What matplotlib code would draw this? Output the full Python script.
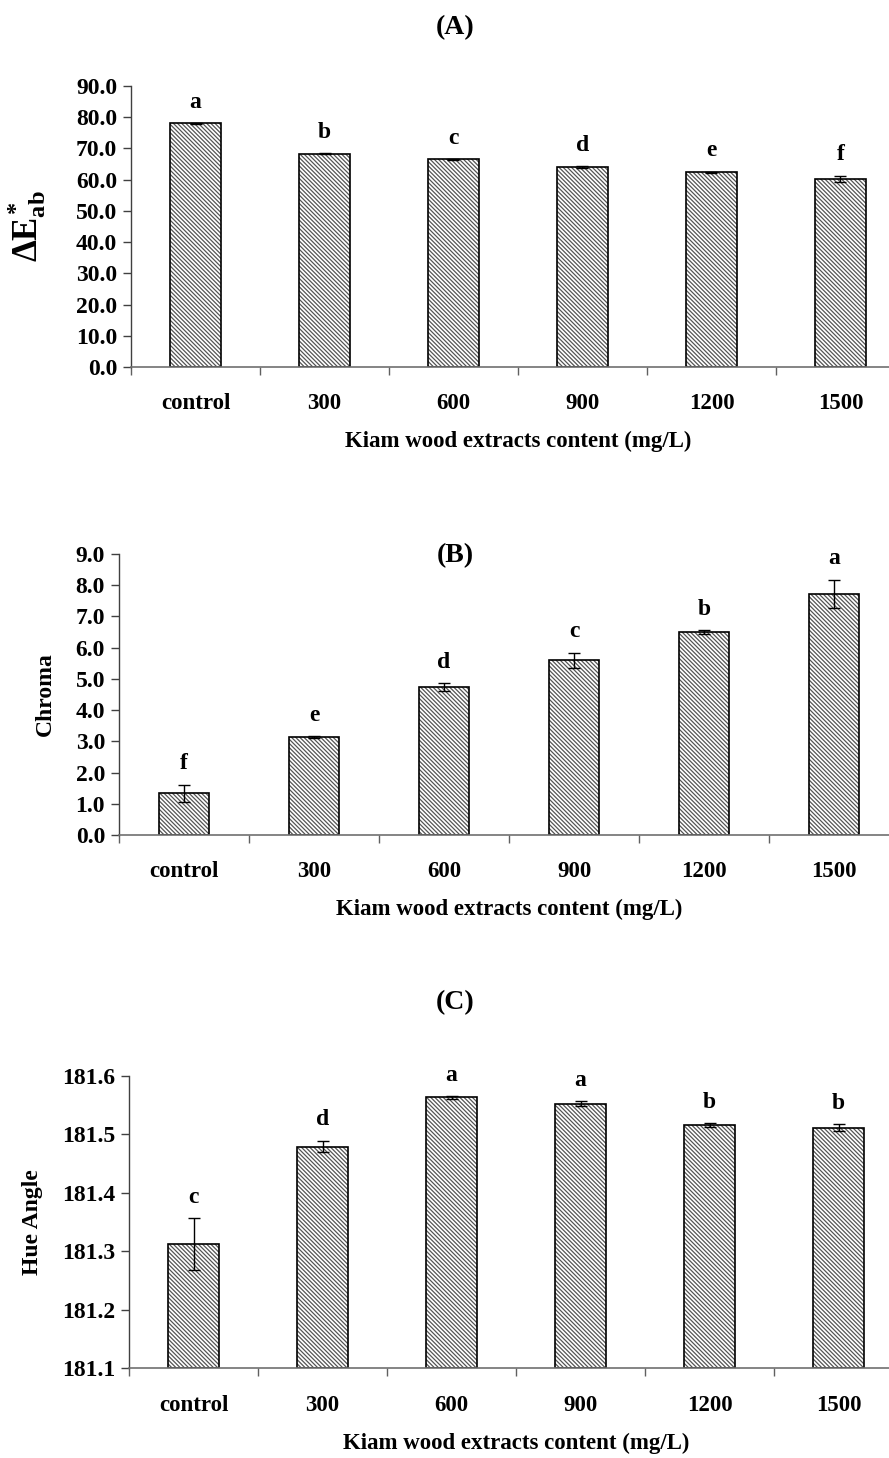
import matplotlib
matplotlib.use("Agg")
import matplotlib.pyplot as plt
from matplotlib.ticker import FixedLocator, FormatStrFormatter, NullFormatter

plt.rcParams["font.family"] = "Liberation Serif"
plt.rcParams["font.weight"] = "bold"
plt.rcParams["hatch.linewidth"] = 0.9
plt.rcParams["mathtext.fontset"] = "custom"
plt.rcParams["mathtext.rm"] = "Liberation Serif:bold"
plt.rcParams["mathtext.bf"] = "Liberation Serif:bold"
plt.rcParams["mathtext.it"] = "Liberation Serif:bold"

categories = ["control", "300", "600", "900", "1200", "1500"]

delta_e = [78.0, 68.3, 66.5, 64.1, 62.3, 60.3]
delta_e_err = [0.1, 0.2, 0.1, 0.3, 0.3, 1.0]
delta_e_groups = ["a", "b", "c", "d", "e", "f"]

chroma = [1.34, 3.13, 4.74, 5.60, 6.50, 7.72]
chroma_err = [0.27, 0.03, 0.12, 0.24, 0.05, 0.46]
chroma_groups = ["f", "e", "d", "c", "b", "a"]

hue = [181.312, 181.479, 181.563, 181.552, 181.516, 181.511]
hue_err = [0.044, 0.010, 0.002, 0.004, 0.003, 0.006]
hue_groups = ["c", "d", "a", "a", "b", "b"]

xlabel = "Kiam wood extracts content (mg/L)"

fig = plt.figure(figsize=(8.89, 14.58), dpi=100)


def draw_panel(rect, values, errors, groups, ymin, ymax, ystep, fmt,
               ylabel, ylabel_size, ylabel_x, tick_size):
    ax = fig.add_axes(rect)
    x = list(range(len(categories)))
    heights = [v - ymin for v in values]
    # grey hatch fill, then a black outline on top
    ax.bar(x, heights, bottom=ymin, width=0.39, color="white",
           edgecolor="#555555", linewidth=0, hatch="\\" * 8, zorder=2)
    ax.bar(x, heights, bottom=ymin, width=0.39, fill=False,
           edgecolor="black", linewidth=1.2, zorder=2)
    ax.errorbar(x, values, yerr=errors, fmt="none", ecolor="black",
                elinewidth=1, capsize=4, capthick=1, zorder=3)
    for xi, v, e, g in zip(x, values, errors, groups):
        ax.annotate(g, (xi, v + e), xytext=(0, 15), textcoords="offset points",
                    ha="center", va="center", fontsize=17, fontweight="bold")

    ax.set_xlim(-0.5, len(categories) - 0.5)
    ax.set_ylim(ymin, ymax)
    n = int(round((ymax - ymin) / ystep))
    ax.yaxis.set_major_locator(FixedLocator([ymin + i * ystep for i in range(n + 1)]))
    ax.yaxis.set_major_formatter(FormatStrFormatter(fmt))

    ax.set_xticks(x)
    ax.set_xticklabels(categories)
    ax.xaxis.set_minor_locator(FixedLocator([i - 0.5 for i in range(len(categories) + 1)]))
    ax.xaxis.set_minor_formatter(NullFormatter())
    ax.tick_params(axis="x", which="major", length=0, pad=19, labelsize=16.5)
    ax.tick_params(axis="x", which="minor", length=6, width=1, color="#606060")
    ax.tick_params(axis="y", length=6, width=1, color="#404040", pad=4,
                   labelsize=tick_size)
    for lab in ax.get_xticklabels() + ax.get_yticklabels():
        lab.set_fontweight("bold")

    ax.spines["top"].set_visible(False)
    ax.spines["right"].set_visible(False)
    ax.spines["left"].set_color("#404040")
    ax.spines["bottom"].set_color("#707070")
    ax.spines["left"].set_linewidth(1)
    ax.spines["bottom"].set_linewidth(1.2)

    ax.set_xlabel(xlabel, fontsize=16.5, fontweight="bold", labelpad=12)
    ax.set_ylabel(ylabel, fontsize=ylabel_size, fontweight="bold", va="center")
    ax.yaxis.set_label_coords(ylabel_x, 0.5)
    return ax


# (A) colour difference
draw_panel([131 / 889, 1 - 367 / 1458, 774 / 889, 281 / 1458],
           delta_e, delta_e_err, delta_e_groups, 0.0, 90.0, 10.0, "%.1f",
           r"$\Delta E_{ab}^{*}$", 25, -0.135, 17)

# (B) chroma
draw_panel([119 / 889, 1 - 835 / 1458, 780 / 889, 281 / 1458],
           chroma, chroma_err, chroma_groups, 0.0, 9.0, 1.0, "%.1f",
           "Chroma", 17, -0.094, 17)

# (C) hue angle
draw_panel([129 / 889, 1 - 1368.3 / 1458, 774 / 889, 292.6 / 1458],
           hue, hue_err, hue_groups, 181.1, 181.6, 0.1, "%.1f",
           "Hue Angle", 17, -0.125, 17)

for label, ypix in [("(A)", 28), ("(B)", 556), ("(C)", 1003)]:
    fig.text(455 / 889, 1 - ypix / 1458, label, ha="center", va="center",
             fontsize=20, fontweight="bold")

fig.savefig("out.png", dpi=100)
